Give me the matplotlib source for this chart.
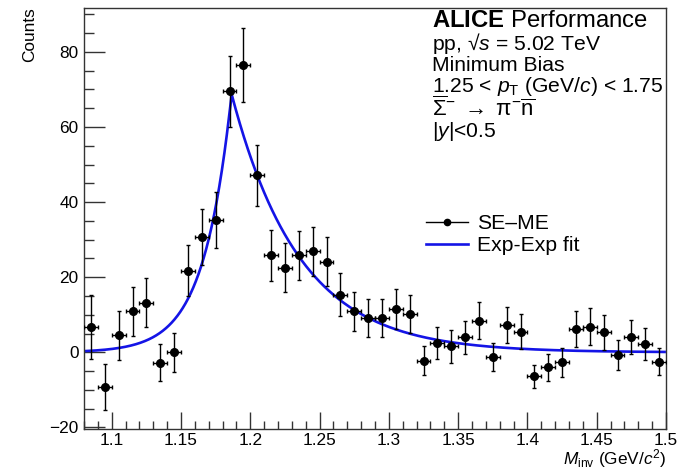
import numpy as np
import matplotlib
matplotlib.use("Agg")
import matplotlib.pyplot as plt
from matplotlib.lines import Line2D
from matplotlib.ticker import MultipleLocator

plt.rcParams["font.family"] = ["Liberation Sans", "DejaVu Sans"]
plt.rcParams["mathtext.fontset"] = "custom"
plt.rcParams["mathtext.rm"] = "Liberation Sans"
plt.rcParams["mathtext.it"] = "Liberation Sans:italic"
plt.rcParams["mathtext.bf"] = "Liberation Sans:bold"
plt.rcParams["axes.unicode_minus"] = True

# Invariant-mass bin centres (GeV/c^2)
mass = [1.085, 1.095, 1.105, 1.115, 1.125, 1.135, 1.145, 1.155, 1.165, 1.175,
        1.185, 1.195, 1.205, 1.215, 1.225, 1.235, 1.245, 1.255, 1.265, 1.275,
        1.285, 1.295, 1.305, 1.315, 1.325, 1.335, 1.345, 1.355, 1.365, 1.375,
        1.385, 1.395, 1.405, 1.415, 1.425, 1.435, 1.445, 1.455, 1.465, 1.475,
        1.485, 1.495]
# Same-event minus mixed-event counts
counts = [6.7, -9.2, 4.5, 10.9, 13.2, -2.7, 0.0, 21.8, 30.8, 35.2,
          69.5, 76.5, 47.1, 25.8, 22.6, 25.8, 26.9, 24.1, 15.4, 10.9,
          9.2, 9.2, 11.6, 10.2, -2.2, 2.5, 1.6, 4.0, 8.4, -1.2,
          7.3, 5.5, -6.4, -4.0, -2.6, 6.2, 6.8, 5.3, -0.7, 4.2,
          2.2, -2.5]
count_err = [8.5, 6.2, 6.6, 6.6, 6.5, 4.8, 5.1, 6.8, 7.4, 7.5,
             9.5, 9.8, 8.1, 6.7, 6.5, 6.6, 6.6, 6.5, 5.7, 5.3,
             5.1, 5.1, 5.3, 5.1, 3.9, 4.35, 4.3, 4.4, 4.9, 3.7,
             4.9, 4.7, 3.1, 3.55, 3.9, 4.8, 4.9, 4.6, 4.0, 4.5,
             4.3, 3.6]
half_bin = 0.005

# Asymmetric double-exponential fit parameters
fit_amp = 68.8
fit_mean = 1.1865
fit_slope_left = 0.0200
fit_slope_right = 0.0490
fit_range = (1.081, 1.499)


def exp_exp(x):
    left = fit_amp * np.exp((x - fit_mean) / fit_slope_left)
    right = fit_amp * np.exp(-(x - fit_mean) / fit_slope_right)
    return np.where(x < fit_mean, left, right)


W, H = 688, 469
fig = plt.figure(figsize=(W / 100, H / 100), dpi=100)
ax = fig.add_axes([84 / W, 1 - 429 / H, (666 - 84) / W, (429 - 8) / H])

ax.errorbar(mass, counts, yerr=count_err, xerr=half_bin, fmt="o", color="black",
            ms=5.5, elinewidth=1.0, capsize=1.5, capthick=1.0, zorder=3)

xf = np.linspace(fit_range[0], fit_range[1], 2000)
ax.plot(xf, exp_exp(xf), color="#1414e6", lw=1.9, zorder=2)

ax.set_xlim(1.08, 1.5)
ax.set_ylim(-20.4, 91.7)
ax.xaxis.set_minor_locator(MultipleLocator(0.01))
ax.yaxis.set_major_locator(MultipleLocator(20))
ax.yaxis.set_minor_locator(MultipleLocator(5))
ax.set_xticks([1.1, 1.15, 1.2, 1.25, 1.3, 1.35, 1.4, 1.45, 1.5])
ax.set_xticklabels(["1.1", "1.15", "1.2", "1.25", "1.3", "1.35", "1.4", "1.45", "1.5"])
ax.tick_params(which="both", direction="in", top=False, right=False,
               labelsize=12.4, width=1.0, color="#333333")
ax.tick_params(axis="x", which="major", length=12, pad=3)
ax.tick_params(axis="x", which="minor", length=6)
ax.tick_params(axis="y", which="major", length=15, pad=4)
ax.tick_params(axis="y", which="minor", length=7.5)
for sp in ax.spines.values():
    sp.set_linewidth(1.0)
    sp.set_color("#333333")

fig.text(30 / W, 1 - 7 / H, "Counts", rotation=90, fontsize=12.4,
         ha="center", va="top")
fig.text(666 / W, 1 - 459 / H, r"$M_{\rm inv}$ (GeV/$c^{2}$)", fontsize=12.4,
         ha="right", va="center")

txt_x = 432 / W
lines = [
    (21, r"$\mathbf{ALICE}$ Performance", 17.2),
    (43, "pp, \u221a$s$ = 5.02 TeV", 15.2),
    (65, "Minimum Bias", 15.2),
    (87, r"1.25 < $p_{\rm T}$ (GeV/$c$) < 1.75", 15.2),
    (109, r"$\overline{\Sigma}^{-}\;\rightarrow\;\mathrm{\pi}^{-}\overline{\rm n}$", 16.0),
    (131, r"$|y|$<0.5", 15.2),
]
for ypx, s, fs in lines:
    fig.text(txt_x, 1 - ypx / H, s, fontsize=fs, ha="left", va="center")

handles = [
    Line2D([], [], color="black", marker="o", ms=4.5, lw=1.0),
    Line2D([], [], color="#1414e6", lw=1.9),
]
fig.legend(handles, ["SE\u2013ME", "Exp-Exp fit"], loc="upper left",
           bbox_to_anchor=(426 / W, 1 - 214 / H), frameon=False,
           fontsize=15.2, handlelength=2.0, handletextpad=0.4,
           labelspacing=0.15, borderaxespad=0.0, borderpad=0.0)

fig.savefig("out.png", dpi=100)
